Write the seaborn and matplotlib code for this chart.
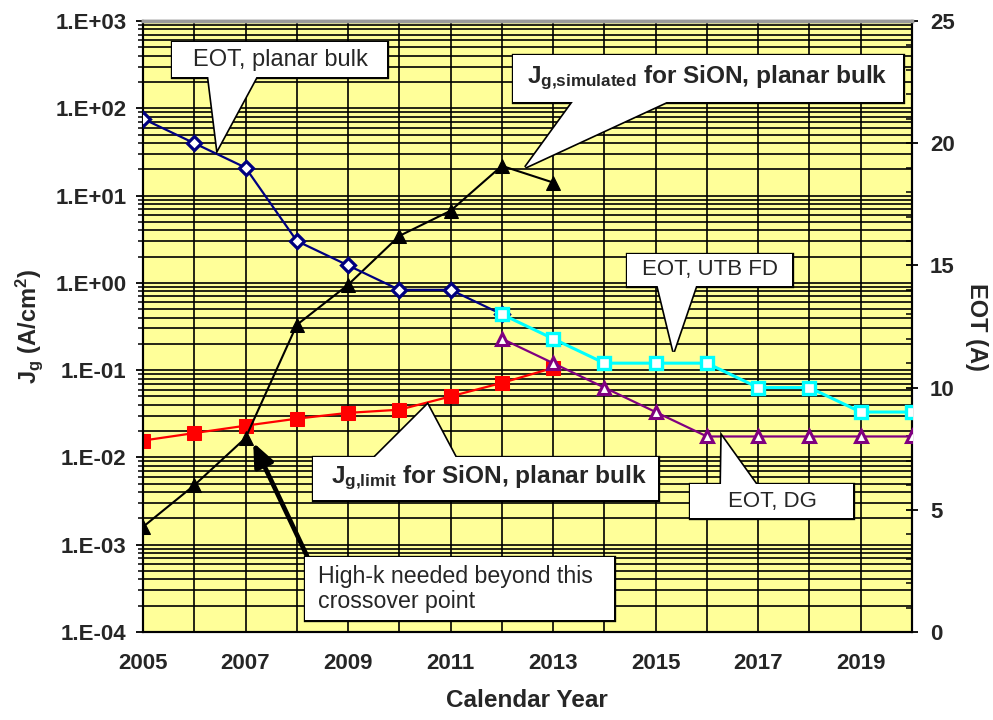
import numpy as np
import matplotlib
matplotlib.use("Agg")
import matplotlib.pyplot as plt
import seaborn as sns
from matplotlib.patches import Rectangle, Polygon
from matplotlib.ticker import (FixedLocator, MultipleLocator, LogLocator,
                               FuncFormatter, NullFormatter)

# ---- data -------------------------------------------------------------
years_jg = [2005, 2006, 2007, 2008, 2009, 2010, 2011, 2012, 2013]
jg_limit = [0.0156, 0.019, 0.0231, 0.0278, 0.0324, 0.0352, 0.050, 0.0714, 0.106]
jg_simulated = [0.0016, 0.0048, 0.0167, 0.33, 0.95, 3.45, 6.7, 21.9, 14.1]

years_bulk = [2005, 2006, 2007, 2008, 2009, 2010, 2011, 2012]
eot_bulk = [21, 20, 19, 16, 15, 14, 14, 13]

years_utb = [2012, 2013, 2014, 2015, 2016, 2017, 2018, 2019, 2020]
eot_utb = [13, 12, 11, 11, 11, 10, 10, 9, 9]

years_dg = [2012, 2013, 2014, 2015, 2016, 2017, 2018, 2019, 2020]
eot_dg = [12, 11, 10, 9, 8, 8, 8, 8, 8]

year_ticks = [2005, 2007, 2009, 2011, 2013, 2015, 2017, 2019]
jg_range = (1e-4, 1e3)
eot_range = (0, 25)

# ---- style ------------------------------------------------------------
sns.set_style("white")
plt.rcParams["font.family"] = ["Liberation Sans", "DejaVu Sans"]
plt.rcParams["font.weight"] = "bold"
plt.rcParams["mathtext.fontset"] = "custom"
plt.rcParams["mathtext.rm"] = "Liberation Sans"
plt.rcParams["mathtext.bf"] = "Liberation Sans:bold"
plt.rcParams["mathtext.it"] = "Liberation Sans:italic"

W, H = 993, 720
fig = plt.figure(figsize=(W / 100, H / 100), dpi=100)
ax = fig.add_axes([143 / W, 88 / H, 769 / W, 611 / H])
ax.set_facecolor("#FFFF99")
ax.set_axisbelow(True)


def px(x, y):
    """Image-style pixel position (origin top-left) -> figure fraction."""
    return (x / W, 1 - y / H)


# ---- leakage current (log axis) ---------------------------------------
ax.set_yscale("log")
sns.lineplot(x=years_jg, y=jg_limit, ax=ax, color="#FF0000", lw=1.6,
             marker="s", markersize=9.5, markerfacecolor="#FF0000",
             markeredgecolor="#FF0000", zorder=4)
sns.lineplot(x=years_jg, y=jg_simulated, ax=ax, color="black", lw=1.5,
             marker="^", markersize=10, markerfacecolor="black",
             markeredgecolor="black", zorder=5)

ax.set_xlim(2005, 2020)
ax.set_ylim(*jg_range)
ax.xaxis.set_major_locator(FixedLocator(year_ticks))
ax.xaxis.set_minor_locator(MultipleLocator(1))
ax.xaxis.set_minor_formatter(NullFormatter())
ax.yaxis.set_major_locator(LogLocator(base=10, numticks=20))
ax.yaxis.set_minor_locator(LogLocator(base=10, subs=np.arange(2, 10), numticks=20))
ax.yaxis.set_major_formatter(
    FuncFormatter(lambda v, p: f"1.E{int(round(np.log10(v))):+03d}"))
ax.yaxis.set_minor_formatter(NullFormatter())
ax.grid(True, which="both", axis="both", color="black", lw=1.2)

ax.tick_params(axis="x", which="major", direction="out", length=5, width=1.3,
               labelsize=16, pad=10, color="black")
ax.tick_params(axis="x", which="minor", length=0)
ax.tick_params(axis="y", which="major", direction="out", length=5, width=1.3,
               labelsize=16, pad=7, color="black")
ax.tick_params(axis="y", which="minor", direction="out", length=3.5, width=1.1,
               color="black")

ax.set_xlabel("Calendar Year", fontsize=17.5, fontweight="bold")
ax.xaxis.set_label_coords(0.499, -0.093)
ax.set_ylabel(r"J$_\mathbf{g}$ (A/cm$^\mathbf{2}$)", fontsize=17,
              fontweight="bold")
ax.yaxis.set_label_coords(-0.128, 0.5)

# ---- EOT (linear right axis) ------------------------------------------
ax2 = ax.twinx()
sns.lineplot(x=years_bulk, y=eot_bulk, ax=ax2, color="#000080", lw=1.6,
             marker="D", markersize=7.5, markerfacecolor="white",
             markeredgecolor="#000080", markeredgewidth=2.3, zorder=3)
sns.lineplot(x=years_dg, y=eot_dg, ax=ax2, color="#800080", lw=1.6,
             marker="^", markersize=8.5, markerfacecolor="white",
             markeredgecolor="#800080", markeredgewidth=2.2, zorder=4)
sns.lineplot(x=years_utb, y=eot_utb, ax=ax2, color="#00FFFF", lw=2.2,
             marker="s", markersize=9, markerfacecolor="white",
             markeredgecolor="#00FFFF", markeredgewidth=2.4, zorder=5)

ax2.set_xlim(2005, 2020)
ax2.set_ylim(*eot_range)
ax2.set_xlabel("")
ax2.yaxis.set_major_locator(MultipleLocator(5))
ax2.yaxis.set_minor_locator(MultipleLocator(1))
ax2.tick_params(axis="y", which="major", direction="inout", length=8,
                width=1.3, labelsize=16, pad=9, color="black")
ax2.tick_params(axis="y", which="minor", direction="in", length=4,
                width=1.1, color="black")
ax2.set_ylabel("EOT (A)", fontsize=17, fontweight="bold", rotation=270,
               va="bottom")
ax2.yaxis.set_label_coords(1.069, 0.5)

for a in (ax, ax2):
    for side in ("left", "right", "bottom"):
        a.spines[side].set_color("black")
        a.spines[side].set_linewidth(1.5)
    a.spines["top"].set_color("#9a9a9a")
    a.spines["top"].set_linewidth(2.5)


# ---- callouts ---------------------------------------------------------
to_fig = fig.transFigure.inverted()


def callout(text, box, text_xy, tip=None, tip_trans=None, base=None,
            weight="normal", size=16, ha="center"):
    """White speech-bubble box; the pointer runs from a base segment on the
    box edge to a point given in data coordinates."""
    x0, y0, x1, y1 = box
    bx, by = px(x0, y1)
    bw, bh = (x1 - x0) / W, (y1 - y0) / H
    poly = None
    if tip is not None:
        tip_fig = to_fig.transform(tip_trans.transform(tip))
        bl, br = base
        # base points slightly inside the box so the seam is hidden
        edge = y1 - 3 if tip_fig[1] < by else y0 + 3
        poly = [px(bl, edge), tuple(tip_fig), px(br, edge)]
    # outline layer, then a fill-only layer on top that hides inner seams
    for i, (ec, lw) in enumerate((("black", 2.4), ("none", 0.0))):
        if poly is not None:
            ax2.add_patch(Polygon(poly, closed=True, transform=fig.transFigure,
                                  fc="white", ec=ec, lw=lw, clip_on=False,
                                  joinstyle="miter", zorder=10 + i * 0.2))
        ax2.add_patch(Rectangle((bx, by), bw, bh, transform=fig.transFigure,
                                fc="white", ec=ec, lw=lw, clip_on=False,
                                zorder=10.1 + i * 0.2))
    ax2.text(*px(*text_xy), text, transform=fig.transFigure, ha=ha,
             va="center", fontsize=size, fontweight=weight, zorder=11,
             linespacing=1.12)


callout("EOT, planar bulk", (172, 42, 387, 77), (280, 60),
        (2006.45, 19.75), ax2.transData, (208, 258), size=17)
callout(r"J$_\mathbf{g{,}simulated}$ for SiON, planar bulk",
        (513, 55, 903, 102), (707, 78), (2012.46, 21.1), ax.transData,
        (575, 673), weight="bold", size=17.6)
callout("EOT, UTB FD", (627, 254, 792, 286), (710, 270),
        (2015.35, 11.48), ax2.transData, (657, 697))
callout("EOT, DG", (690, 484, 853, 518), (772, 501),
        (2016.29, 8.0), ax2.transData, (721, 758))
callout(r"J$_\mathbf{g{,}limit}$ for SiON, planar bulk",
        (313, 457, 658, 500), (489, 478), (2010.55, 0.0403), ax.transData,
        (372, 457), weight="bold", size=17.6)

# crossover pointer
ax2.annotate("", xy=(2007.15, 0.0148), xycoords=ax.transData,
             xytext=px(307, 556), textcoords="figure fraction",
             arrowprops=dict(arrowstyle="-|>,head_length=0.7,head_width=0.3",
                             mutation_scale=20, lw=3.4, color="black",
                             shrinkA=0, shrinkB=0),
             annotation_clip=False, zorder=9)
callout("High-k needed beyond this\ncrossover point", (305, 557, 614, 620),
        (318, 589), ha="left", size=16.7)

fig.savefig("out.png", dpi=100)
